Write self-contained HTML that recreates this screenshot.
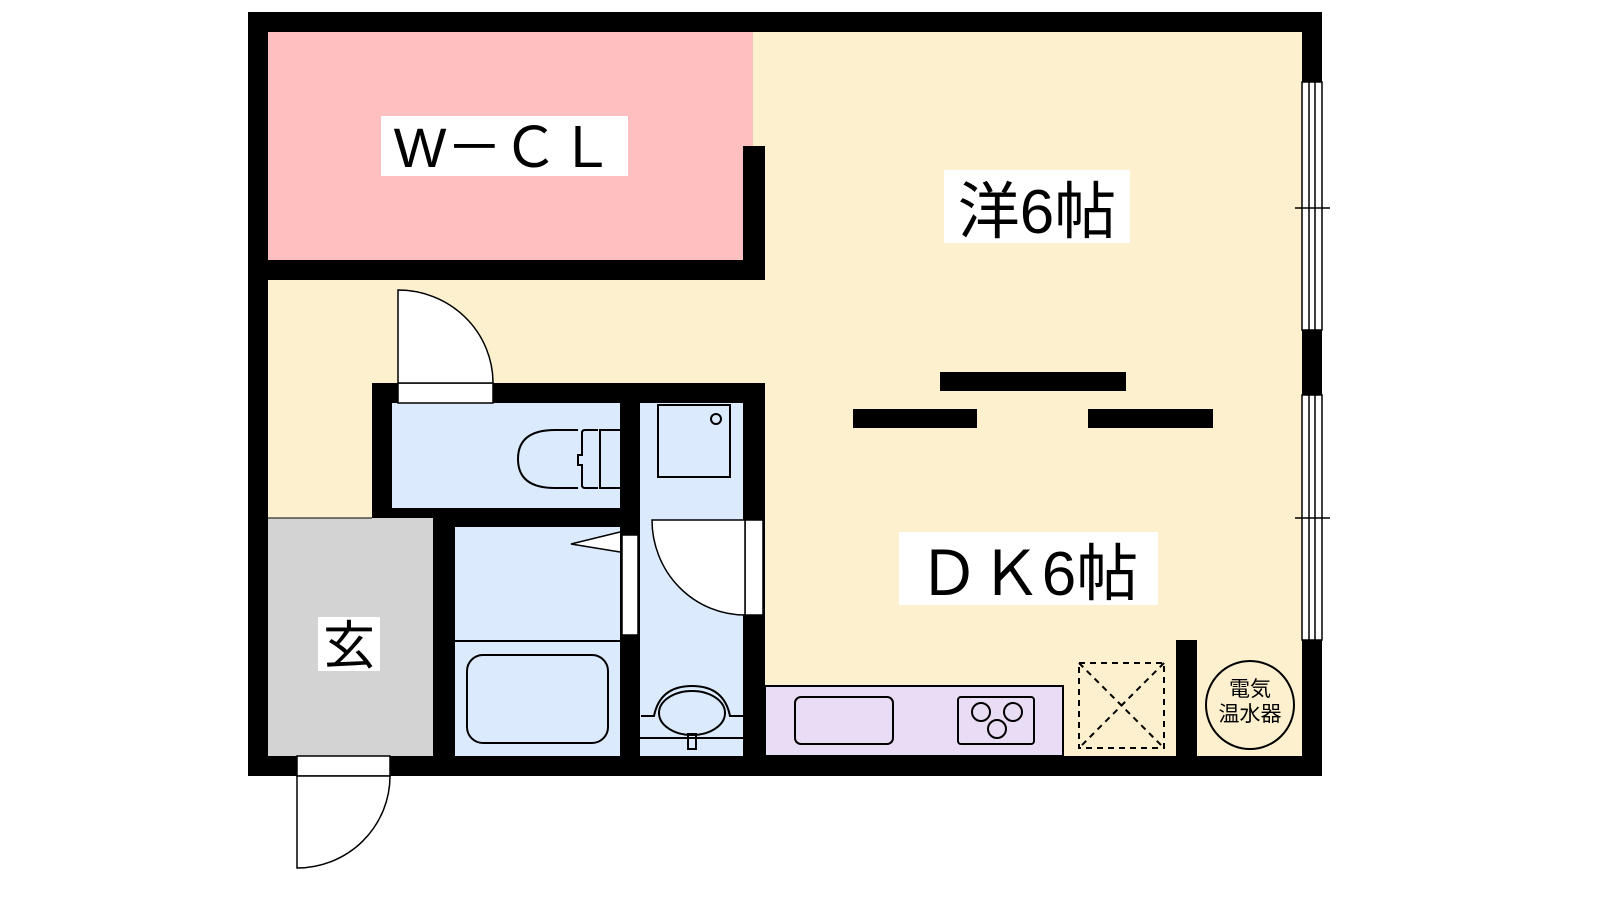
<!DOCTYPE html><html><head><style>body{margin:0;background:#fff}svg{display:block}text{font-family:"Liberation Sans","Noto Sans CJK JP",sans-serif}</style></head><body>
<svg width="1600" height="900" viewBox="0 0 1600 900" xmlns="http://www.w3.org/2000/svg">
<rect x="248" y="12" width="1074" height="764" fill="#000"/>
<rect x="268" y="32" width="1034" height="724" fill="#fdf0cf"/>
<rect x="268" y="32" width="485" height="228" fill="#fdbfbf"/>
<rect x="268" y="260" width="497" height="20" fill="#000"/>
<rect x="743" y="146" width="22" height="134" fill="#000"/>
<!-- windows -->
<g stroke="#000" stroke-width="1.5" fill="#fff">
<rect x="1302" y="82" width="20" height="248"/><rect x="1302" y="395" width="20" height="245"/>
<line x1="1309" y1="82" x2="1309" y2="330"/><line x1="1315" y1="82" x2="1315" y2="330"/>
<line x1="1309" y1="395" x2="1309" y2="640"/><line x1="1315" y1="395" x2="1315" y2="640"/>
<line x1="1295" y1="208" x2="1330" y2="208"/><line x1="1295" y1="518" x2="1330" y2="518"/>
</g>
<!-- wet block -->
<rect x="372" y="383" width="393" height="144" fill="#000"/>
<rect x="433" y="508" width="332" height="248" fill="#000"/>
<rect x="392" y="403" width="228" height="105" fill="#dbeafd"/>
<rect x="455" y="527" width="165" height="229" fill="#dbeafd"/>
<rect x="640" y="403" width="103" height="353" fill="#dbeafd"/>
<rect x="268" y="518" width="165" height="238" fill="#d3d3d3"/>
<line x1="268" y1="518" x2="372" y2="518" stroke="#000"/>
<g stroke="#000" stroke-width="2" fill="none">
<path d="M620 430 H600 V488 H620 M598 430 H585 Q582 430 582 433 V455 H578 V465 H582 V485 Q582 488 585 488 H598 M578 430 H555 Q518 430 518 459 Q518 488 555 488 H578"/>
<rect x="658" y="405" width="72" height="72"/><circle cx="716" cy="419" r="5"/>
<rect x="467" y="655" width="141" height="88" rx="16"/>
<line x1="455" y1="641" x2="620" y2="641"/>
<path d="M640 738 H743 M641 716 H654 Q660 686 692 686 Q724 686 730 716 H743"/>
<ellipse cx="692" cy="713" rx="33" ry="22"/><rect x="688" y="734" width="8" height="15"/>
</g>
<!-- partition door -->
<rect x="622" y="535" width="16" height="100" fill="#fff" stroke="#000" stroke-width="1.5"/>
<path d="M620 532 L571 544 L620 552" fill="#fff" stroke="#000" stroke-width="1.5"/>
<!-- wash door -->
<rect x="745" y="520" width="18" height="95" fill="#fff" stroke="#000" stroke-width="1.5"/>
<path d="M652 520 H745 V615 A93 95 0 0 1 652 520 Z" fill="#fff" stroke="#000" stroke-width="1.5"/>
<!-- toilet door -->
<rect x="398" y="383" width="95" height="20" fill="#fff" stroke="#000" stroke-width="1.5"/>
<path d="M398 383 V290 A95 93 0 0 1 493 383 Z" fill="#fff" stroke="#000" stroke-width="1.5"/>
<!-- entry door -->
<rect x="297" y="756" width="93" height="20" fill="#fff" stroke="#000" stroke-width="1.5"/>
<path d="M297 776 V868 A93 92 0 0 0 390 776 Z" fill="#fff" stroke="#000" stroke-width="1.5"/>
<!-- bars -->
<rect x="940" y="372" width="186" height="19" fill="#000"/>
<rect x="853" y="409" width="124" height="19" fill="#000"/>
<rect x="1088" y="409" width="125" height="19" fill="#000"/>
<!-- kitchen -->
<rect x="765" y="686" width="298" height="70" fill="#e9dcf5" stroke="#000" stroke-width="2"/>
<rect x="795" y="697" width="98" height="47" rx="6" fill="none" stroke="#000" stroke-width="2"/>
<rect x="958" y="697" width="76" height="47" rx="3" fill="none" stroke="#000" stroke-width="2"/>
<g fill="none" stroke="#000" stroke-width="2"><circle cx="981" cy="712" r="9"/><circle cx="1013" cy="712" r="9"/><circle cx="997" cy="729" r="9"/></g>
<g fill="none" stroke="#000" stroke-width="2" stroke-dasharray="6,5"><rect x="1079" y="663" width="85" height="85"/><path d="M1079 663 L1164 748 M1164 663 L1079 748"/></g>
<rect x="1176" y="640" width="21" height="116" fill="#000"/>
<circle cx="1250" cy="705" r="44" fill="none" stroke="#000" stroke-width="2"/>
<text x="1250" y="696" font-size="21" text-anchor="middle">電気</text>
<text x="1250" y="721" font-size="21" text-anchor="middle">温水器</text>
<!-- labels -->
<rect x="381" y="116" width="247" height="60" fill="#fff"/>
<text x="504" y="167" font-size="56" text-anchor="middle">W－ＣＬ</text>
<rect x="944" y="170" width="186" height="73" fill="#fff"/>
<text x="1037" y="233" font-size="62" text-anchor="middle">洋6帖</text>
<rect x="899" y="532" width="259" height="73" fill="#fff"/>
<text x="1028" y="595" font-size="62" text-anchor="middle">ＤＫ6帖</text>
<rect x="318" y="617" width="62" height="54" fill="#fff"/>
<text x="349" y="664" font-size="52" text-anchor="middle">玄</text>
</svg></body></html>
